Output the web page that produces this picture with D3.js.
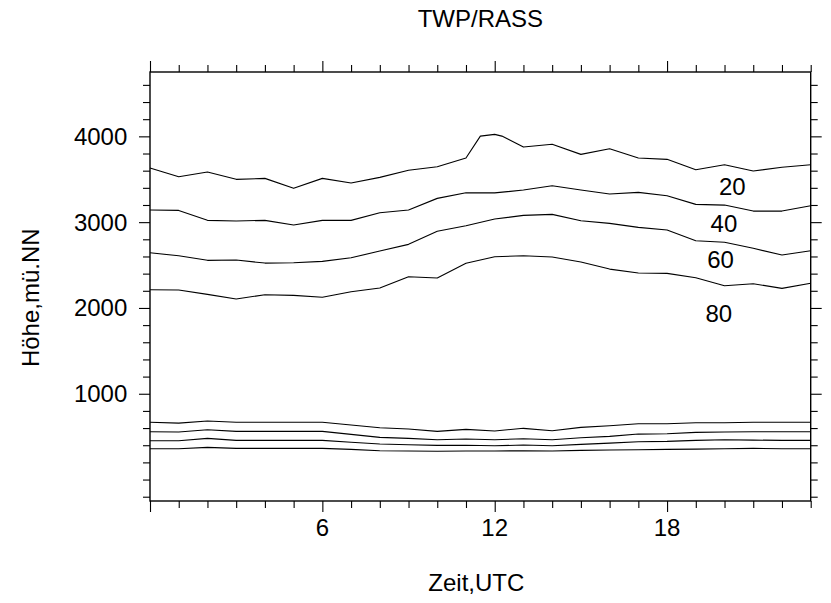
<!DOCTYPE html>
<html>
<head>
<meta charset="utf-8">
<script src="https://cdn.jsdelivr.net/npm/d3@7"></script>
<style>
  html, body { margin: 0; padding: 0; background: #fff; }
  svg text { font-family: "Liberation Sans", Arial, Helvetica, sans-serif; fill: #000; }
</style>
</head>
<body>
<svg id="chart" width="831" height="603"></svg>
<script>
// Hourly time axis (UTC) and contour heights in metres above sea level
const hours = d3.range(0, 24);
const hours20 = [0, 1, 2, 3, 4, 5, 6, 7, 8, 9, 10, 11, 11.5, 12, 12.25, 13, 14, 15, 16, 17, 18, 19, 20, 21, 22, 23];

const line20 = [3631, 3529, 3584, 3499, 3510, 3394, 3510, 3456, 3522, 3604, 3646, 3748, 4003, 4023, 4003, 3875, 3908, 3790, 3856, 3747, 3732, 3611, 3669, 3596, 3639, 3669];
const line40 = [3141, 3137, 3021, 3013, 3021, 2966, 3021, 3021, 3110, 3141, 3277, 3343, 3341, 3374, 3424, 3374, 3328, 3347, 3308, 3207, 3199, 3129, 3129, 3191];
const line60 = [2643, 2608, 2555, 2558, 2523, 2527, 2543, 2585, 2663, 2741, 2893, 2958, 3036, 3079, 3091, 3016, 2986, 2939, 2908, 2783, 2765, 2695, 2617, 2667];
const line80 = [2212, 2209, 2158, 2104, 2154, 2147, 2124, 2189, 2232, 2364, 2349, 2520, 2597, 2608, 2593, 2535, 2453, 2407, 2403, 2352, 2259, 2282, 2228, 2288];

// Near-ground contour lines
const lowA = [667, 658, 682, 667, 667, 667, 667, 635, 604, 589, 562, 585, 566, 597, 569, 608, 627, 650, 650, 662, 662, 667, 667, 667];
const lowB = [557, 554, 581, 562, 562, 562, 562, 527, 492, 480, 464, 472, 464, 476, 464, 488, 503, 530, 534, 550, 554, 557, 557, 557];
const lowC = [452, 452, 480, 457, 457, 457, 457, 434, 414, 406, 398, 400, 394, 402, 394, 410, 425, 441, 445, 457, 464, 460, 457, 457];
const lowD = [359, 359, 375, 363, 363, 363, 363, 352, 336, 332, 329, 332, 332, 336, 332, 340, 344, 347, 352, 355, 359, 363, 359, 359];

// Contour labels: text, hour, height
const labelText = ["20", "40", "60", "80"];
const labelHour = [20.27, 19.98, 19.86, 19.8];
const labelHeight = [3415, 2980, 2560, 1930];

const xMajor = [0, 6, 12, 18];
const xTickLabels = ["", "6", "12", "18"];
const yMajor = [1000, 2000, 3000, 4000];

const svg = d3.select("#chart");
const plotL = 150, plotR = 810.7, plotT = 72, plotB = 501;

const x = d3.scaleLinear().domain([0, 23]).range([plotL, plotR]);
const y = d3.scaleLinear().domain([-250, 4750]).range([plotB, plotT]);

const xMinor = d3.range(0, 24).filter(h => !xMajor.includes(h));
const yMinor = d3.range(-200, 4700, 200).filter(v => !yMajor.includes(v));

const majorLen = 11, minorLen = 7;

// Axes on all four sides, ticks pointing outward
function addTicks(axisFn, scale, values, len, transform) {
  const g = svg.append("g")
    .attr("transform", transform)
    .call(axisFn(scale).tickValues(values).tickSize(len).tickFormat(""));
  g.select(".domain").remove();
  g.selectAll(".tick line").attr("stroke", "#000").attr("stroke-width", 1.1);
  return g;
}
addTicks(d3.axisBottom, x, xMajor, majorLen, `translate(0,${plotB})`);
addTicks(d3.axisBottom, x, xMinor, minorLen, `translate(0,${plotB})`);
addTicks(d3.axisTop, x, xMajor, majorLen, `translate(0,${plotT})`);
addTicks(d3.axisTop, x, xMinor, minorLen, `translate(0,${plotT})`);
addTicks(d3.axisLeft, y, yMajor, majorLen, `translate(${plotL},0)`);
addTicks(d3.axisLeft, y, yMinor, minorLen, `translate(${plotL},0)`);
addTicks(d3.axisRight, y, yMajor, majorLen, `translate(${plotR},0)`);
addTicks(d3.axisRight, y, yMinor, minorLen, `translate(${plotR},0)`);

// Tick labels
svg.append("g").selectAll("text").data(yMajor).join("text")
  .attr("x", plotL - 22.7)
  .attr("y", d => y(d))
  .attr("dy", "0.35em")
  .attr("text-anchor", "end")
  .attr("font-size", 24)
  .text(d => d);

svg.append("g").selectAll("text").data(xMajor).join("text")
  .attr("x", d => x(d))
  .attr("y", 535.5)
  .attr("text-anchor", "middle")
  .attr("font-size", 24)
  .text((d, i) => xTickLabels[i]);

// Contour lines
const lineGen = (xs) => d3.line().x((d, i) => x(xs[i])).y(d => y(d));
const series = [
  [hours20, line20], [hours, line40], [hours, line60], [hours, line80],
  [hours, lowA], [hours, lowB], [hours, lowC], [hours, lowD]
];
svg.append("g").selectAll("path").data(series).join("path")
  .attr("d", s => lineGen(s[0])(s[1]))
  .attr("fill", "none")
  .attr("stroke", "#000")
  .attr("stroke-width", 1.1)
  .attr("stroke-linejoin", "round");

// Contour labels
svg.append("g").selectAll("text").data(labelText).join("text")
  .attr("x", (d, i) => x(labelHour[i]))
  .attr("y", (d, i) => y(labelHeight[i]))
  .attr("dy", "0.35em")
  .attr("text-anchor", "middle")
  .attr("font-size", 24)
  .text(d => d);

// Plot frame
svg.append("rect")
  .attr("x", plotL).attr("y", plotT)
  .attr("width", plotR - plotL).attr("height", plotB - plotT)
  .attr("fill", "none").attr("stroke", "#000").attr("stroke-width", 1.4);

// Titles
svg.append("text")
  .attr("x", (plotL + plotR) / 2).attr("y", 26.7)
  .attr("text-anchor", "middle").attr("font-size", 24)
  .text("TWP/RASS");

svg.append("text")
  .attr("x", (plotL + plotR) / 2 - 4).attr("y", 590.7)
  .attr("text-anchor", "middle").attr("font-size", 24)
  .text("Zeit,UTC");

svg.append("text")
  .attr("transform", "translate(39.3,297.7) rotate(-90)")
  .attr("text-anchor", "middle").attr("font-size", 24)
  .text("Höhe,mü.NN");
</script>
</body>
</html>
